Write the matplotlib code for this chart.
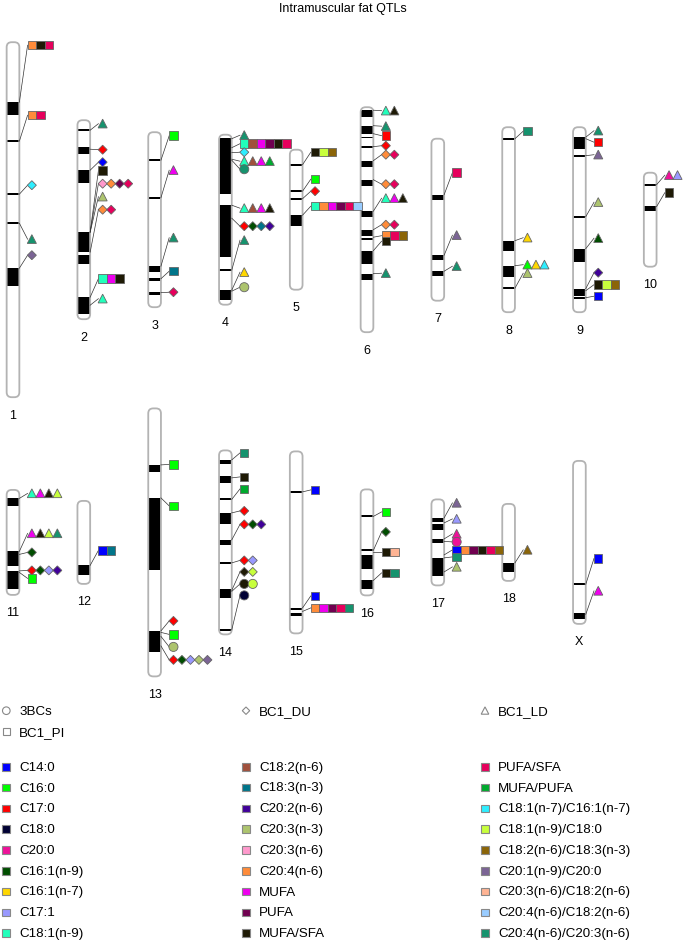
import matplotlib
matplotlib.use("Agg")
import matplotlib.pyplot as plt
from matplotlib.patches import FancyBboxPatch, Rectangle, Polygon, Circle

plt.rcParams["font.family"] = ["Liberation Sans", "DejaVu Sans"]

# fatty acid traits and their colours (legend order, column by column)
TRAITS = [
    "C14:0", "C16:0", "C17:0", "C18:0", "C20:0", "C16:1(n-9)", "C16:1(n-7)", "C17:1", "C18:1(n-9)",
    "C18:2(n-6)", "C18:3(n-3)", "C20:2(n-6)", "C20:3(n-3)", "C20:3(n-6)", "C20:4(n-6)", "MUFA", "PUFA", "MUFA/SFA",
    "PUFA/SFA", "MUFA/PUFA", "C18:1(n-7)/C16:1(n-7)", "C18:1(n-9)/C18:0", "C18:2(n-6)/C18:3(n-3)",
    "C20:1(n-9)/C20:0", "C20:3(n-6)/C18:2(n-6)", "C20:4(n-6)/C18:2(n-6)", "C20:4(n-6)/C20:3(n-6)",
]
TRAIT_COLORS = [
    "#0000ff", "#00ff00", "#ff0000", "#000033", "#ee1199", "#004d00", "#ffd700", "#9999ff", "#22ffbb",
    "#a0503c", "#00758a", "#400099", "#adc46e", "#ff99cc", "#ff8c3a", "#ee00ee", "#700050", "#1e1a05",
    "#e6005c", "#00aa2e", "#2eeeff", "#c8ff3c", "#8b6508",
    "#7b6495", "#ffb494", "#99ccff", "#16936e",
]
POPULATIONS = ["3BCs", "BC1_DU", "BC1_LD", "BC1_PI"]

TOP_ROW = ["1", "2", "3", "4", "5", "6", "7", "8", "9", "10"]
BOTTOM_ROW = ["11", "12", "13", "14", "15", "16", "17", "18", "X"]

# chromosome lengths (plot units)
LENGTHS = {
    "1": 355, "2": 199, "3": 175, "4": 170, "5": 140, "6": 225, "7": 162, "8": 185, "9": 185, "10": 94,
    "11": 105, "12": 83, "13": 268, "14": 184, "15": 182, "16": 106, "17": 86, "18": 77, "X": 163,
}

# dark bands (start, end) from the top of each chromosome
BANDS = {
    "1": [(60, 73), (98, 100), (151, 153), (180, 182), (226, 244)],
    "2": [(9, 11), (27, 34), (50, 63), (112, 132), (135, 144), (177, 194)],
    "3": [(27, 29), (64.5, 66.5), (134, 139.5), (145.5, 148.5), (160, 162.5)],
    "4": [(3.5, 59), (70.5, 122.5), (134, 136.5), (155, 165.5)],
    "5": [(14, 16), (40.5, 42.5), (48, 50), (65.5, 76.5)],
    "6": [(2.5, 9.5), (18.5, 26.5), (29.5, 31), (38.5, 40.5), (53.5, 59.5), (72.5, 79), (104, 110),
          (122.5, 128.5), (130.5, 132.5), (144, 156.5), (166.5, 172.5)],
    "7": [(56, 61), (116.5, 121.5), (132.5, 137.5)],
    "8": [(10.5, 12.5), (113.5, 124), (138.5, 150), (160, 162)],
    "9": [(10, 21.5), (27.5, 30), (88.5, 90.5), (121.5, 135), (161.5, 168.5), (170, 171.5)],
    "10": [(11, 13), (33.5, 38.5)],
    "11": [(8.5, 16.5), (61.5, 76), (81, 99.5)],
    "12": [(64.5, 74)],
    "13": [(56.5, 63.5), (89.5, 161.5), (222.5, 243.5)],
    "14": [(9.5, 13.5), (26, 32.5), (48, 50), (62.5, 73.5), (89.5, 94.5), (111.5, 114), (139, 147.5),
           (178.5, 180.5)],
    "15": [(39.5, 41.5), (156.5, 158.5), (161.5, 165)],
    "16": [(26, 28), (60, 62), (66, 80), (91, 99.5)],
    "17": [(18.5, 22.5), (25, 31), (39.5, 43.5), (58.5, 76.5)],
    "18": [(59, 68.5)],
    "X": [(122.5, 124.5), (152.5, 158.5)],
}

# QTLs: (position, label position, population, traits)
QTLS = {
    "1": [
        (60, 3, "BC1_PI", ["C20:4(n-6)", "MUFA/SFA", "PUFA/SFA"]),
        (99, 73, "BC1_PI", ["C20:4(n-6)", "PUFA/SFA"]),
        (152, 143, "BC1_DU", ["C18:1(n-7)/C16:1(n-7)"]),
        (181, 197, "BC1_LD", ["C20:4(n-6)/C20:3(n-6)"]),
        (226, 213, "BC1_DU", ["C20:1(n-9)/C20:0"]),
    ],
    "2": [
        (10, 3.5, "BC1_LD", ["C20:4(n-6)/C20:3(n-6)"]),
        (29, 29.5, "BC1_DU", ["C17:0"]),
        (50, 42, "BC1_DU", ["C14:0"]),
        (112, 50.5, "BC1_PI", ["MUFA/SFA"]),
        (112, 63.5, "BC1_DU", ["C20:3(n-6)", "C20:4(n-6)", "PUFA", "PUFA/SFA"]),
        (112, 76.5, "BC1_LD", ["C20:3(n-3)"]),
        (132, 89.5, "BC1_DU", ["C20:4(n-6)", "PUFA/SFA"]),
        (177, 158.5, "BC1_PI", ["C18:1(n-9)", "MUFA", "MUFA/SFA"]),
        (185, 178.5, "BC1_LD", ["C18:1(n-9)"]),
    ],
    "3": [
        (28, 3.5, "BC1_PI", ["C16:0"]),
        (65.5, 38, "BC1_LD", ["MUFA"]),
        (134, 105.5, "BC1_LD", ["C20:4(n-6)/C20:3(n-6)"]),
        (146.5, 139, "BC1_PI", ["C18:3(n-3)"]),
        (160.5, 160, "BC1_DU", ["PUFA/SFA"]),
    ],
    "4": [
        (4, 0.5, "BC1_LD", ["C20:4(n-6)/C20:3(n-6)"]),
        (13, 9, "BC1_PI", ["C18:1(n-9)", "C18:2(n-6)", "MUFA", "PUFA", "MUFA/SFA", "PUFA/SFA"]),
        (18, 17.5, "BC1_DU", ["C18:1(n-7)/C16:1(n-7)"]),
        (24.5, 26.5, "BC1_LD", ["C18:1(n-9)", "C18:2(n-6)", "MUFA", "MUFA/PUFA"]),
        (25.5, 34.5, "3BCs", ["C20:4(n-6)/C20:3(n-6)"]),
        (70.5, 73.5, "BC1_LD", ["C18:1(n-9)", "C18:2(n-6)", "MUFA", "MUFA/SFA"]),
        (83.5, 91.5, "BC1_DU", ["C17:0", "C16:1(n-9)", "C18:3(n-3)", "C20:2(n-6)"]),
        (135.5, 105.5, "BC1_LD", ["C20:4(n-6)/C20:3(n-6)"]),
        (155.5, 137.5, "BC1_LD", ["C16:1(n-7)"]),
        (156.5, 152.5, "3BCs", ["C20:3(n-3)"]),
    ],
    "5": [
        (15, 2.5, "BC1_PI", ["MUFA/SFA", "C18:1(n-9)/C18:0", "C18:2(n-6)/C18:3(n-3)"]),
        (41.5, 29.5, "BC1_PI", ["C16:0"]),
        (49, 41.5, "BC1_DU", ["C17:0"]),
        (65.5, 56.5, "BC1_PI", ["C18:1(n-9)", "C20:4(n-6)", "MUFA", "PUFA", "PUFA/SFA", "C20:4(n-6)/C18:2(n-6)"]),
    ],
    "6": [
        (3, 3.5, "BC1_LD", ["C18:1(n-9)", "MUFA/SFA"]),
        (18.5, 19, "BC1_LD", ["C20:4(n-6)/C20:3(n-6)"]),
        (26.5, 28.5, "BC1_PI", ["C17:0"]),
        (39.5, 38.5, "BC1_DU", ["C17:0"]),
        (53.5, 47.5, "BC1_DU", ["C20:4(n-6)", "PUFA/SFA"]),
        (72.5, 77, "BC1_DU", ["C20:4(n-6)", "PUFA/SFA"]),
        (104, 91, "BC1_LD", ["C18:1(n-9)", "MUFA", "MUFA/SFA"]),
        (122.5, 117.5, "BC1_DU", ["C20:4(n-6)", "PUFA/SFA"]),
        (130, 128.5, "BC1_PI", ["C20:4(n-6)", "PUFA/SFA", "C18:2(n-6)/C18:3(n-3)"]),
        (143.5, 134, "BC1_PI", ["MUFA/SFA"]),
        (166.5, 166, "BC1_LD", ["C20:4(n-6)/C20:3(n-6)"]),
    ],
    "7": [
        (56, 34, "BC1_PI", ["PUFA/SFA"]),
        (116.5, 96.5, "BC1_LD", ["C20:1(n-9)/C20:0"]),
        (132.5, 127.5, "BC1_LD", ["C20:4(n-6)/C20:3(n-6)"]),
    ],
    "8": [
        (11.5, 4, "BC1_PI", ["C20:4(n-6)/C20:3(n-6)"]),
        (113.5, 110.5, "BC1_LD", ["C16:1(n-7)"]),
        (138.5, 137.5, "BC1_LD", ["C16:0", "C16:1(n-7)", "C18:1(n-7)/C16:1(n-7)"]),
        (161, 146, "BC1_LD", ["C20:3(n-3)"]),
    ],
    "9": [
        (10, 3.5, "BC1_LD", ["C20:4(n-6)/C20:3(n-6)"]),
        (11.5, 15, "BC1_PI", ["C17:0"]),
        (28.5, 27.5, "BC1_LD", ["C20:1(n-9)/C20:0"]),
        (89.5, 75, "BC1_LD", ["C20:3(n-3)"]),
        (121.5, 111, "BC1_LD", ["C16:1(n-9)"]),
        (161.5, 145.5, "BC1_DU", ["C20:2(n-6)"]),
        (163.5, 157.5, "BC1_PI", ["MUFA/SFA", "C18:1(n-9)/C18:0", "C18:2(n-6)/C18:3(n-3)"]),
        (170.5, 169, "BC1_PI", ["C14:0"]),
    ],
    "10": [
        (12, 2.5, "BC1_LD", ["C20:0", "C17:1"]),
        (34, 20, "BC1_PI", ["MUFA/SFA"]),
    ],
    "11": [
        (8.5, 3.5, "BC1_LD", ["C18:1(n-9)", "MUFA", "MUFA/SFA", "C18:1(n-9)/C18:0"]),
        (61.5, 43.5, "BC1_LD", ["MUFA", "MUFA/SFA", "C18:1(n-9)/C18:0", "C20:4(n-6)/C20:3(n-6)"]),
        (64.5, 62.5, "BC1_DU", ["C16:1(n-9)"]),
        (81, 80.5, "BC1_DU", ["C17:0", "C16:1(n-9)", "C17:1", "C20:2(n-6)"]),
        (82.5, 88.5, "BC1_PI", ["C16:0"]),
    ],
    "12": [
        (64.5, 49.5, "BC1_PI", ["C14:0", "C18:3(n-3)"]),
    ],
    "13": [
        (56.5, 56, "BC1_PI", ["C16:0"]),
        (89.5, 97.5, "BC1_PI", ["C16:0"]),
        (222.5, 212.5, "BC1_DU", ["C17:0"]),
        (224, 226, "BC1_PI", ["C16:0"]),
        (228, 238.5, "3BCs", ["C20:3(n-3)"]),
        (237.5, 251.5, "BC1_DU", ["C17:0", "C16:1(n-9)", "C17:1", "C20:3(n-3)", "C20:1(n-9)/C20:0"]),
    ],
    "14": [
        (9.5, 2.5, "BC1_PI", ["C20:4(n-6)/C20:3(n-6)"]),
        (27.5, 26.5, "BC1_PI", ["MUFA/SFA"]),
        (49, 38.5, "BC1_PI", ["MUFA/PUFA"]),
        (62.5, 60.5, "BC1_DU", ["C17:0"]),
        (89.5, 74, "BC1_DU", ["C17:0", "C16:1(n-9)", "C20:2(n-6)"]),
        (112.5, 110, "BC1_DU", ["C17:0", "C17:1"]),
        (140, 121.5, "BC1_DU", ["MUFA/SFA", "C18:1(n-9)/C18:0"]),
        (141, 133.5, "3BCs", ["MUFA/SFA", "C18:1(n-9)/C18:0"]),
        (179.5, 145, "3BCs", ["C18:0"]),
    ],
    "15": [
        (40.5, 38.5, "BC1_PI", ["C14:0"]),
        (156.5, 144.5, "BC1_PI", ["C14:0"]),
        (160, 156.5, "BC1_PI", ["C20:4(n-6)", "MUFA", "PUFA", "PUFA/SFA", "C20:4(n-6)/C20:3(n-6)"]),
    ],
    "16": [
        (27, 22.5, "BC1_PI", ["C16:0"]),
        (61, 42.5, "BC1_DU", ["C16:1(n-9)"]),
        (62.5, 62.5, "BC1_PI", ["MUFA/SFA", "C20:3(n-6)/C18:2(n-6)"]),
        (91, 83.5, "BC1_PI", ["MUFA/SFA", "C20:4(n-6)/C20:3(n-6)"]),
    ],
    "17": [
        (18.5, 3.5, "BC1_LD", ["C20:1(n-9)/C20:0"]),
        (23.5, 19.5, "BC1_LD", ["C17:1"]),
        (39.5, 34.5, "BC1_LD", ["C20:0"]),
        (42, 42.5, "3BCs", ["C20:0"]),
        (55.5, 50.5, "BC1_PI", ["C14:0", "C20:4(n-6)", "PUFA", "MUFA/SFA", "PUFA/SFA", "C18:2(n-6)/C18:3(n-3)"]),
        (58.5, 57.5, "BC1_PI", ["C20:4(n-6)/C20:3(n-6)"]),
        (72.5, 67.5, "BC1_LD", ["C20:3(n-3)"]),
    ],
    "18": [
        (59, 46, "BC1_LD", ["C18:2(n-6)/C18:3(n-3)"]),
    ],
    "X": [
        (123.5, 97.5, "BC1_PI", ["C14:0"]),
        (153.5, 130, "BC1_LD", ["MUFA"]),
    ],
}

COLOR = dict(zip(TRAITS, TRAIT_COLORS))

W = 12.7       # chromosome width
M = 8.5        # marker size
GAP = 12.5     # chromosome edge -> first marker centre
SLOT0, SLOT = 13.0, 70.8
ROW_CENTERS = [220.7, 543.4]
EDGE = "#666666"


def add_marker(ax, x, y, pop, color, ec=EDGE, lw=0.6, z=6, s=M):
    h = s / 2
    if pop == "BC1_PI":
        p = Rectangle((x - h, y - h), s, s)
    elif pop == "BC1_DU":
        h = s * 0.53
        p = Polygon([(x, y - h), (x + h, y), (x, y + h), (x - h, y)])
    elif pop == "BC1_LD":
        p = Polygon([(x - h - 0.3, y + h), (x + h + 0.3, y + h), (x, y - h - 0.3)])
    else:
        p = Circle((x, y), h + 0.3)
    p.set_facecolor(color)
    p.set_edgecolor(ec)
    p.set_linewidth(lw)
    p.set_zorder(z)
    ax.add_patch(p)


def draw_chrom(ax, name, cx, cy):
    length = LENGTHS[name]
    top = cy - length / 2
    body = FancyBboxPatch((cx - W / 2, top), W, length, boxstyle="round,pad=0,rounding_size=5",
                          fc="white", ec="none", zorder=2)
    ax.add_patch(body)
    for s, e in BANDS[name]:
        band = Rectangle((cx - W / 2, top + s), W, e - s, fc="black", ec="none", zorder=3)
        band.set_clip_path(body)
        ax.add_patch(band)
    ax.add_patch(FancyBboxPatch((cx - W / 2, top), W, length, boxstyle="round,pad=0,rounding_size=5",
                                fc="none", ec="#b3b3b3", lw=1.3, zorder=4))
    ax.text(cx, top + length + 17.5, name, ha="center", va="center", fontsize=9)

    x0 = cx + W / 2
    for pos, lab, pop, traits in QTLS[name]:
        mx = x0 + GAP
        ax.plot([x0, mx - M / 2], [top + pos, top + lab], color="#333333", lw=0.5, zorder=5)
        for k, t in enumerate(traits):
            add_marker(ax, mx + k * M, top + lab, pop, COLOR[t])


fig = plt.figure(figsize=(6.85, 9.45), dpi=100)
ax = fig.add_axes([0, 0, 1, 1])
ax.set_xlim(0, 685)
ax.set_ylim(945, 0)
ax.axis("off")

ax.text(342.5, 9, "Intramuscular fat QTLs", ha="center", va="center", fontsize=9)

for row, names in enumerate([TOP_ROW, BOTTOM_ROW]):
    for i, name in enumerate(names):
        draw_chrom(ax, name, SLOT0 + i * SLOT, ROW_CENTERS[row])

# legend: populations (shapes) then traits (colours)
LEG_X = [6.3, 246, 485]
for i, pop in enumerate(POPULATIONS):
    x = LEG_X[i % 3]
    y = 711.7 + (i // 3) * 21
    add_marker(ax, x, y, pop, "white", ec="#888888", lw=0.8, s=7)
    ax.text(x + 13, y, pop, ha="left", va="center", fontsize=9.6)

for i, t in enumerate(TRAITS):
    x = LEG_X[i // 9]
    y = 767.7 + (i % 9) * 20.8
    ax.add_patch(Rectangle((x - 3.8, y - 3.8), 7.6, 7.6, fc=COLOR[t], ec="#888888", lw=0.8))
    ax.text(x + 13, y, t, ha="left", va="center", fontsize=9.6)

fig.savefig("out.png", dpi=100)
